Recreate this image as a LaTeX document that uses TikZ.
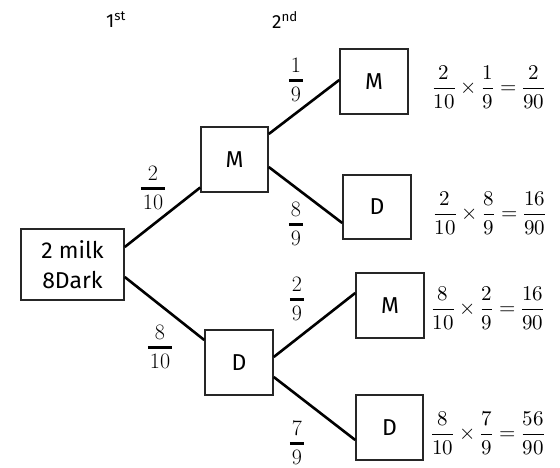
\documentclass[tikz,border=0pt]{standalone}
\usepackage{amsmath}
\usepackage{fontspec}
\usepackage{unicode-math}
\setmathfont{Latin Modern Math}
\newfontfamily\boxfont{Fira Sans}
\usetikzlibrary{calc}
\newlength\bfw
\newcommand\bfr[2]{\settowidth\bfw{#2}\addtolength\bfw{4pt}%
  \vbox{\offinterlineskip\halign{\hfil##\hfil\cr #1\cr\noalign{\kern6pt}\rule{\bfw}{3pt}\cr\noalign{\kern5pt}#2\cr}}}
\newcommand\eqn[6]{$\dfrac{#1}{#2}\times\dfrac{#3}{#4}=\dfrac{#5}{#6}$}
\begin{document}
\begin{tikzpicture}[x=1pt,y=-1pt,
  box/.style={draw=black!85, line width=1.5pt, minimum width=68pt, minimum height=65pt, inner sep=0pt, font=\boxfont\fontsize{23}{30}\selectfont, align=center},
  branch/.style={line width=2.6pt},
  lbl/.style={inner sep=0pt, font=\fontsize{22}{24}\selectfont},
  eqlbl/.style={inner sep=0pt, font=\fontsize{21}{22}\selectfont},
  head/.style={inner sep=0pt, font=\boxfont\fontsize{19}{20}\selectfont}]
\useasboundingbox (0,0) rectangle (560,468);
% nodes
\node[box, minimum width=103pt, minimum height=71pt] (root) at (72.5,264.5) {2 milk\\8Dark};
\node[box, minimum width=67pt] (m1) at (234.5,159.5) {M};
\node[box] (d1) at (239,362.5) {D};
\node[box] (mm) at (374,81.5) {M};
\node[box, minimum height=64pt] (md) at (377,207) {D};
\node[box] (dm) at (390,305.5) {M};
\node[box, minimum width=67pt] (dd) at (389.5,427.5) {D};
% headers
\node[head] (h1) at (116,20) {1\textsuperscript{st}};
\node[head] (h2) at (285,20) {2\textsuperscript{nd}};
% connectors
\draw[branch] ([yshift=17.5pt]root.east) -- ([yshift=-28pt]m1.west);
\draw[branch] ([yshift=-12.5pt]root.east) -- ([yshift=22.5pt]d1.west);
\draw[branch] ([yshift=25.5pt]m1.east) -- ([yshift=1.5pt]mm.west);
\draw[branch] ([yshift=-7.5pt]m1.east) -- ([yshift=-16pt]md.west);
\draw[branch] ([yshift=5.5pt]d1.east) -- ([yshift=12.5pt]dm.west);
\draw[branch] ([yshift=-14.5pt]d1.east) -- ([yshift=-12.5pt]dd.west);
% branch labels
\node[lbl] (l1) at (153,188) {\bfr{2}{10}};
\node[lbl] (l2) at (160,347) {\bfr{8}{10}};
\node[lbl] (l3) at (296,80) {\bfr{1}{9}};
\node[lbl] (l4) at (296,224) {\bfr{8}{9}};
\node[lbl] (l5) at (297,299) {\bfr{2}{9}};
\node[lbl] (l6) at (297,443) {\bfr{7}{9}};
% results
\node[eqlbl] (e1) at (489,87) {\eqn{2}{10}{1}{9}{2}{90}};
\node[eqlbl] (e2) at (490,213) {\eqn{2}{10}{8}{9}{16}{90}};
\node[eqlbl] (e3) at (488,308) {\eqn{8}{10}{2}{9}{16}{90}};
\node[eqlbl] (e4) at (488,433) {\eqn{8}{10}{7}{9}{56}{90}};
\end{tikzpicture}
\end{document}
